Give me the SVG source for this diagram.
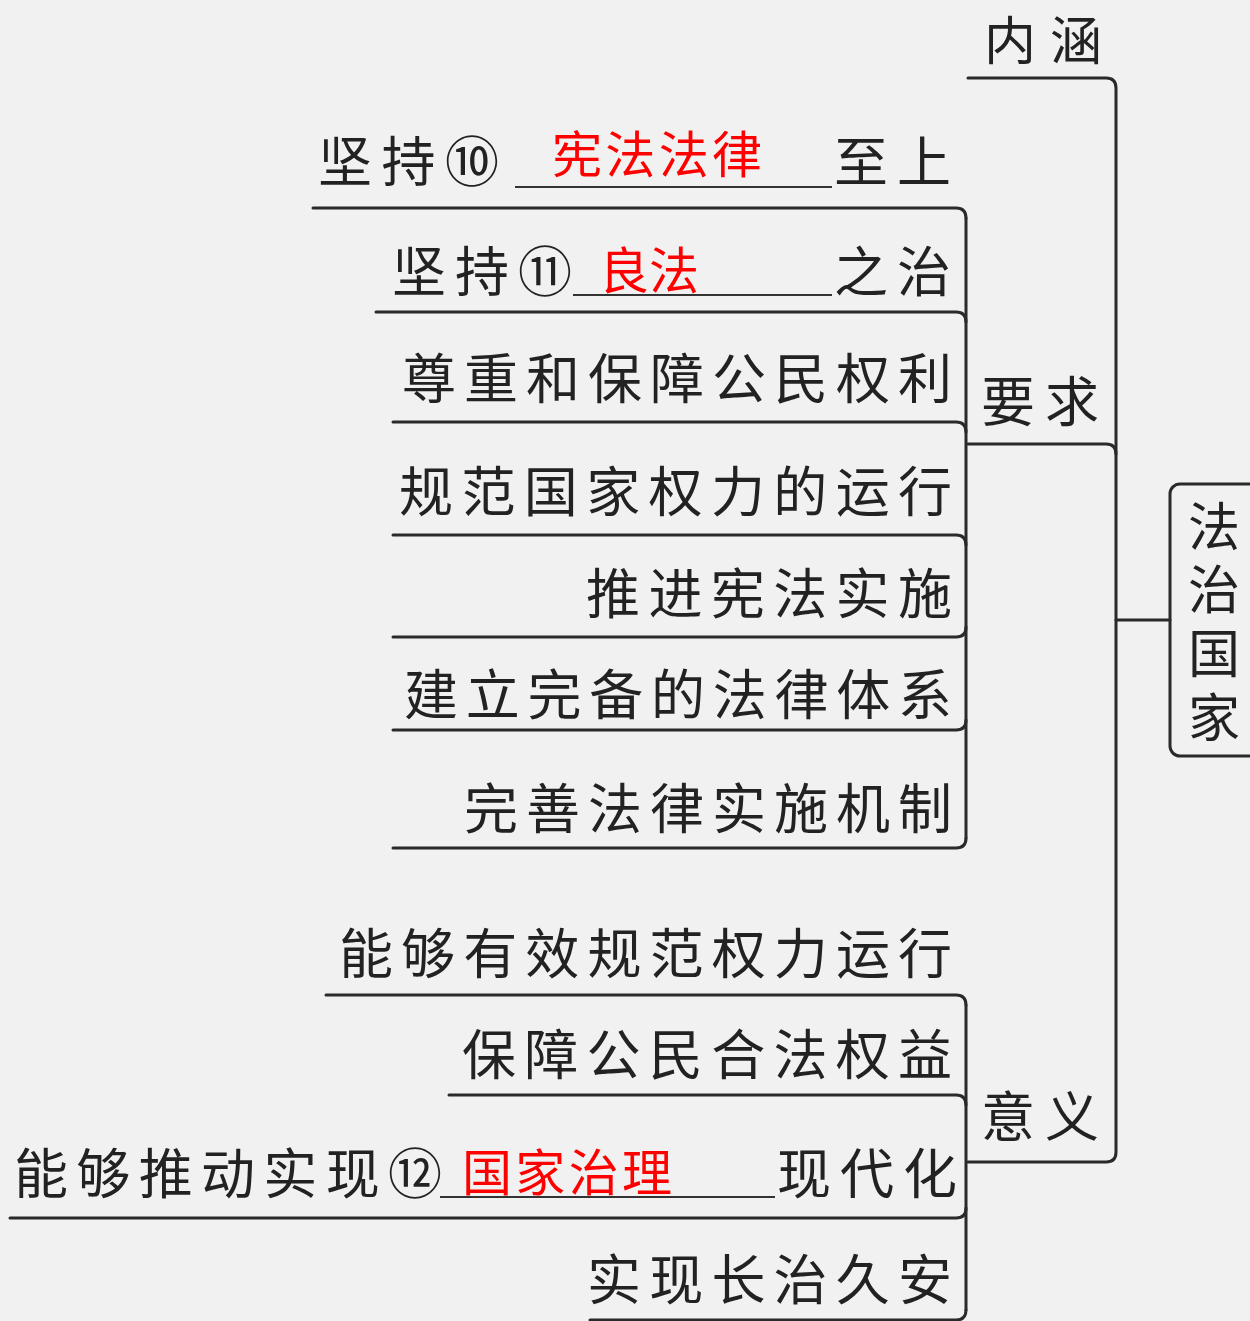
<svg xmlns="http://www.w3.org/2000/svg" width="1250" height="1321" viewBox="0 0 1250 1321">
<style>
.t{font-family:"Noto Sans CJK SC","Noto Sans CJK JP",sans-serif;font-size:54px;fill:#222;}
.r{font-family:"Noto Sans CJK SC","Noto Sans CJK JP",sans-serif;font-size:50px;fill:#ff0000;}
.ln{fill:none;stroke:#2a2a2a;stroke-width:3;stroke-linecap:round;stroke-linejoin:round;}
.bl{fill:none;stroke:#333;stroke-width:2.2;}
</style>
<rect x="0" y="0" width="1250" height="1321" fill="#f1f1f1"/>
<g id="connectors">
<path class="ln" d="M1116,620 H1170"/>
<path class="ln" d="M968,78 H1106 Q1116,78 1116,88 V1152 Q1116,1162 1106,1162 H968"/>
<path class="ln" d="M968,444 H1106 Q1116,444 1116,454"/>
<path class="ln" d="M966,218 V838"/>
<path class="ln" d="M313,208 H956 Q966,208 966,218"/>
<path class="ln" d="M376,312 H956 Q966,312 966,322"/>
<path class="ln" d="M393,422 H956 Q966,422 966,432"/>
<path class="ln" d="M393,535 H956 Q966,535 966,545"/>
<path class="ln" d="M393,637 H956 Q966,637 966,627"/>
<path class="ln" d="M393,730 H956 Q966,730 966,720"/>
<path class="ln" d="M393,848 H956 Q966,848 966,838"/>
<path class="ln" d="M966,1005 V1310"/>
<path class="ln" d="M326,995 H956 Q966,995 966,1005"/>
<path class="ln" d="M449,1095 H956 Q966,1095 966,1105"/>
<path class="ln" d="M10,1218 H956 Q966,1218 966,1208"/>
<path class="ln" d="M590,1320 H956 Q966,1320 966,1310"/>
</g>
<g id="root">
<rect x="1170" y="484" width="110" height="272" rx="10" fill="none" stroke="#2a2a2a" stroke-width="3"/>
<text class="t" x="1214" y="500" style="writing-mode:vertical-rl;font-size:52px" textLength="243" lengthAdjust="spacing">法治国家</text>
</g>
<g id="n-neihan"><text class="t" x="984" y="60" style="font-size:52px" textLength="118" lengthAdjust="spacing">内涵</text></g>
<g id="n-yaoqiu"><text class="t" x="981" y="422" textLength="118" lengthAdjust="spacing">要求</text></g>
<g id="n-yiyi"><text class="t" x="981" y="1137" textLength="118" lengthAdjust="spacing">意义</text></g>
<g id="r1">
<text class="t" x="318" y="182" textLength="181" lengthAdjust="spacing">坚持⑩</text>
<line class="bl" x1="515" y1="187" x2="832" y2="187"/>
<text class="r" x="552" y="173" textLength="210" lengthAdjust="spacing">宪法法律</text>
<text class="t" x="834" y="182" textLength="117" lengthAdjust="spacing">至上</text>
</g>
<g id="r2">
<text class="t" x="392" y="292" textLength="180" lengthAdjust="spacing">坚持⑪</text>
<line class="bl" x1="573" y1="295" x2="832" y2="295"/>
<text class="r" x="599" y="289" textLength="100" lengthAdjust="spacing">良法</text>
<text class="t" x="834" y="292" textLength="117" lengthAdjust="spacing">之治</text>
</g>
<g id="r3"><text class="t" x="402" y="399" textLength="550" lengthAdjust="spacing">尊重和保障公民权利</text></g>
<g id="r4"><text class="t" x="399" y="512" textLength="553" lengthAdjust="spacing">规范国家权力的运行</text></g>
<g id="r5"><text class="t" x="586" y="614" textLength="366" lengthAdjust="spacing">推进宪法实施</text></g>
<g id="r6"><text class="t" x="404" y="715" textLength="548" lengthAdjust="spacing">建立完备的法律体系</text></g>
<g id="r7"><text class="t" x="464" y="829" textLength="488" lengthAdjust="spacing">完善法律实施机制</text></g>
<g id="y1"><text class="t" x="339" y="974" textLength="613" lengthAdjust="spacing">能够有效规范权力运行</text></g>
<g id="y2"><text class="t" x="462" y="1075" textLength="490" lengthAdjust="spacing">保障公民合法权益</text></g>
<g id="y3">
<text class="t" x="14" y="1194" textLength="428" lengthAdjust="spacing">能够推动实现⑫</text>
<line class="bl" x1="440" y1="1197" x2="775" y2="1197"/>
<text class="r" x="462" y="1191" textLength="210" lengthAdjust="spacing">国家治理</text>
<text class="t" x="777" y="1194" textLength="180" lengthAdjust="spacing">现代化</text>
</g>
<g id="y4"><text class="t" x="587" y="1300" textLength="365" lengthAdjust="spacing">实现长治久安</text></g>
</svg>
